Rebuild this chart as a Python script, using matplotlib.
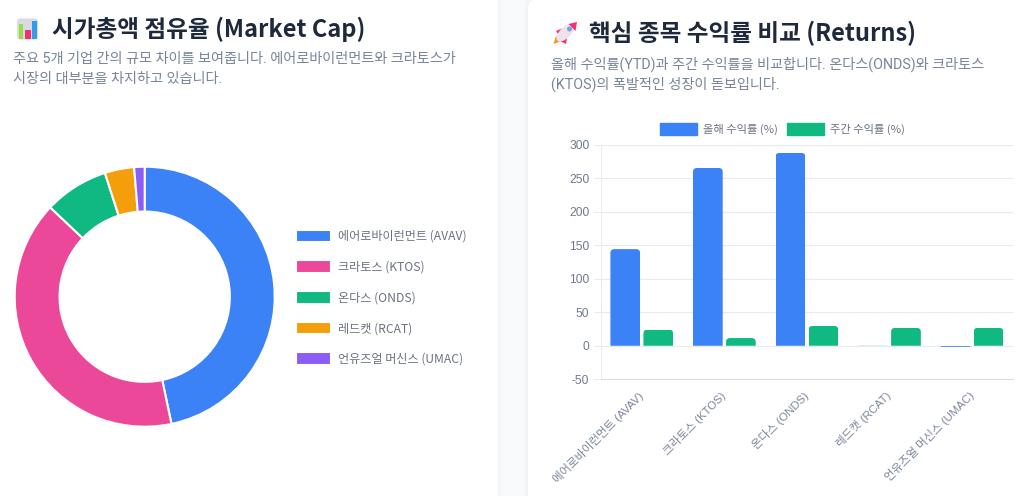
import matplotlib
matplotlib.use("Agg")
import matplotlib.pyplot as plt
from matplotlib.patches import FancyBboxPatch, Rectangle, Ellipse, Polygon, Patch
from matplotlib.path import Path
from matplotlib.transforms import ScaledTranslation

# ---- data ----
share_labels = ['에어로바이런먼트 (AVAV)', '크라토스 (KTOS)', '온다스 (ONDS)', '레드캣 (RCAT)', '언유즈얼 머신스 (UMAC)']
share_values = [46.7, 40.35, 8.0, 3.65, 1.3]
share_colors = ['#3b82f6', '#ec4899', '#10b981', '#f59e0b', '#8b5cf6']
return_labels = share_labels
ytd_values = [144, 265, 287.5, 0.6, -2.5]
week_values = [24, 11.5, 29.5, 26.6, 26.6]
series_names = ['올해 수익률 (%)', '주간 수익률 (%)']
y_ticks = [-50, 0, 50, 100, 150, 200, 250, 300]

plt.rcParams['axes.unicode_minus'] = False
W, H = 1024, 496
KR = ['Noto Sans CJK KR', 'DejaVu Sans']
SUB = ['Roboto', 'Noto Sans CJK KR']
TICK = ['Liberation Sans', 'Noto Sans CJK KR']
PX = 0.72

def box(x0, y0, x1, y1):
    return [x0 / W, 1 - y1 / H, (x1 - x0) / W, (y1 - y0) / H]

fig = plt.figure(figsize=(W / 100, H / 100), dpi=100, facecolor='#f8fafc')

# ---- page layer, in pixels ----
bg = fig.add_axes([0, 0, 1, 1], zorder=0)
bg.set_xlim(0, W); bg.set_ylim(H, 0); bg.axis('off')
for a, g in [(0.012, 5), (0.015, 3), (0.02, 1)]:
    bg.add_patch(Rectangle((0, -20), 498 + g, 540, fc='#64748b', alpha=a, ec='none'))
    bg.add_patch(FancyBboxPatch((528 - g, -1 - g), 520, 520, boxstyle='round,pad=0,rounding_size=10',
                                fc='#64748b', alpha=a, ec='none'))
bg.add_patch(Rectangle((0, -20), 498, 540, fc='white', ec='none'))
bg.add_patch(FancyBboxPatch((528, -1), 520, 520, boxstyle='round,pad=0,rounding_size=10', fc='white', ec='none'))

# bar-chart icon
bg.add_patch(FancyBboxPatch((17, 18.5), 21, 21, boxstyle='round,pad=0,rounding_size=3', fc='#dcd9e0', ec='none'))
for x0, x1, top, c in [(18.5, 23.3, 24, '#8fe04a'), (25, 30.5, 29.5, '#f0306f'), (32.2, 37.2, 20.5, '#2f9cf0')]:
    bg.add_patch(Rectangle((x0, top), x1 - x0, 39 - top, fc=c, ec='none'))
# rocket icon
bg.add_patch(Polygon([(553.5, 44), (556, 36), (561, 41)], fc='#f7941d', ec='none'))
bg.add_patch(Polygon([(556, 31), (563, 28), (560, 37)], fc='#f8316f', ec='none'))
bg.add_patch(Polygon([(567, 38), (566, 44), (560, 41)], fc='#f8316f', ec='none'))
bg.add_patch(Ellipse((565.5, 32.5), 11, 23, angle=45, fc='#eee3ea', ec='none'))
bg.add_patch(Polygon([(577, 22), (575.5, 31), (568.5, 24)], fc='#f8316f', ec='none'))
bg.add_patch(Ellipse((569.5, 29), 5, 5, fc='#6aa8e8', ec='none'))

# titles
title_kw = dict(family=KR, weight='bold', color='#1e293b', fontsize=23.6 * PX, va='center', ha='left')
bg.text(52, 29.5, '시가총액 점유율 (Market Cap)', **title_kw)
bg.text(589, 33.5, '핵심 종목 수익률 비교 (Returns)', **title_kw)
sub_kw = dict(family=SUB, color='#76849a', fontsize=14.2 * PX, va='center', ha='left')
bg.text(13, 59, '주요 5개 기업 간의 규모 차이를 보여줍니다. 에어로바이런먼트와 크라토스가', **sub_kw)
bg.text(13, 79, '시장의 대부분을 차지하고 있습니다.', **sub_kw)
bg.text(551, 64, '올해 수익률(YTD)과 주간 수익률을 비교합니다. 온다스(ONDS)와 크라토스', **sub_kw)
bg.text(551, 84, '(KTOS)의 폭발적인 성장이 돋보입니다.', **sub_kw)

# ---- donut ----
ax1 = fig.add_axes(box(14.7, 166.7, 274.7, 426.7), zorder=1)
wedges, _ = ax1.pie(share_values, colors=share_colors, startangle=90, counterclock=False, radius=1,
                    wedgeprops=dict(width=0.345, edgecolor='white', linewidth=1.5))
ax1.set_xlim(-1, 1); ax1.set_ylim(-1, 1)
leg1 = fig.legend(wedges, share_labels, loc='center left', bbox_to_anchor=(295.5 / W, 1 - 297.7 / H),
                  frameon=False, borderpad=0, borderaxespad=0, prop=dict(family=KR, size=12.1 * PX),
                  handlelength=35.5 / 12.1, handleheight=1.25, handletextpad=6.5 / 12.1, labelspacing=1.427,
                  labelcolor='#6b7280')

# ---- bars ----
ax2 = fig.add_axes(box(600.5, 144.5, 1013.3, 379.3), zorder=1, facecolor='none')
ax2.set_xlim(-0.5, 4.5); ax2.set_ylim(-50, 300)
xs = list(range(len(return_labels)))
bars1 = ax2.bar([x - 0.2 for x in xs], ytd_values, width=0.36, color='#3b82f6', zorder=3, label=series_names[0])
bars2 = ax2.bar([x + 0.2 for x in xs], week_values, width=0.36, color='#10b981', zorder=3, label=series_names[1])

rx_unit = 5 / 412.8
ry_unit = 350 / 234.8
for b in list(bars1) + list(bars2):
    x0, w, h = b.get_x(), b.get_width(), b.get_height()
    if h <= 0:
        continue
    rx = 4 * rx_unit
    ry = min(4 * ry_unit, h)
    verts = [(x0, 0), (x0, h - ry), (x0, h), (x0 + rx, h), (x0 + w - rx, h), (x0 + w, h), (x0 + w, h - ry),
             (x0 + w, 0), (x0, 0)]
    codes = [Path.MOVETO, Path.LINETO, Path.CURVE3, Path.CURVE3, Path.LINETO, Path.CURVE3, Path.CURVE3,
             Path.LINETO, Path.CLOSEPOLY]
    b.set_clip_path(Path(verts, codes), transform=ax2.transData)
bars1[3].set_alpha(0.35)
bars1[4].set_alpha(0.8)

ax2.set_yticks(y_ticks)
ax2.set_xticks(xs)
ax2.set_xticklabels(return_labels, rotation=45, ha='right', va='top', rotation_mode='anchor',
                    family=TICK, fontsize=11.4 * PX, color='#7a8599')
ax2.tick_params(axis='x', length=0, pad=8)
shift = ScaledTranslation(-4.5 * PX / 72, 1 * PX / 72, fig.dpi_scale_trans)
for t in ax2.get_xticklabels():
    t.set_transform(t.get_transform() + shift)
ax2.tick_params(axis='y', length=7 * PX, width=1 * PX, color='#e8ecf2', pad=3, labelcolor='#6f7a8c', labelsize=12 * PX)
for t in ax2.get_yticklabels():
    t.set_family(TICK)
ax2.grid(axis='y', color='#e6eaf1', linewidth=1.1 * PX, zorder=0)
ax2.set_axisbelow(True)
for s in ['top', 'right']:
    ax2.spines[s].set_visible(False)
ax2.spines['left'].set_color('#e8ecf2')
ax2.spines['bottom'].set_color('#d5dae5')
ax2.spines['left'].set_linewidth(1 * PX)
ax2.spines['bottom'].set_linewidth(1 * PX)

handles2 = [Patch(color='#3b82f6'), Patch(color='#10b981')]
fig.legend(handles2, series_names, loc='center', bbox_to_anchor=(782 / W, 1 - 129 / H), ncol=2, frameon=False,
           borderpad=0, borderaxespad=0, prop=dict(family=KR, size=11.3 * PX),
           handlelength=37 / 11.3, handleheight=1.25, handletextpad=6 / 11.3, columnspacing=9 / 11.3,
           labelcolor='#6b7280')

fig.savefig('out.png', dpi=100, facecolor=fig.get_facecolor())
